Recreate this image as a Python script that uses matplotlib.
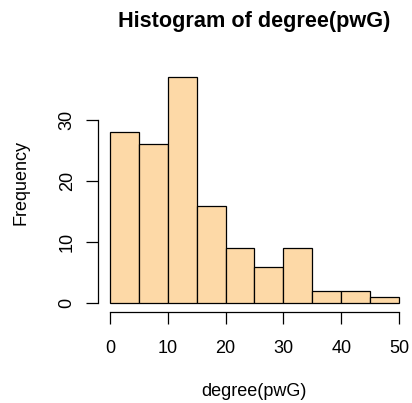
import matplotlib.pyplot as plt
import numpy as np

# histogram of degree(pwG): bin edges and counts
bin_edges = [0, 5, 10, 15, 20, 25, 30, 35, 40, 45, 50]
counts = [28, 26, 37, 16, 9, 6, 9, 2, 2, 1]
x_ticks = [0, 10, 20, 30, 40, 50]
y_ticks = [0, 10, 20, 30]

plt.rcParams['font.family'] = ['Liberation Sans', 'DejaVu Sans']
plt.rcParams['font.size'] = 13

fig = plt.figure(figsize=(4.12, 4.03), dpi=100)
ax = fig.add_axes([0.2388, 0.2248, 0.9966 - 0.2388, 0.8308 - 0.2248])

lefts = np.array(bin_edges[:-1])
widths = np.diff(bin_edges)
ax.bar(lefts, counts, width=widths, align='edge', color='#FDD9A7',
       edgecolor='black', linewidth=0.9)

# R style axis extents (4% padding)
ax.set_xlim(-2, 52)
ax.set_ylim(-1.48, 38.48)

for s in ['top', 'right']:
    ax.spines[s].set_visible(False)
ax.spines['bottom'].set_bounds(0, 50)
ax.spines['left'].set_bounds(0, 30)
ax.spines['bottom'].set_linewidth(0.9)
ax.spines['left'].set_linewidth(0.9)

ax.set_xticks(x_ticks)
ax.set_yticks(y_ticks)
ax.tick_params(axis='both', direction='out', length=8.3, width=0.9)
ax.tick_params(axis='x', pad=11.5)
ax.tick_params(axis='y', pad=8)
for lab in ax.get_yticklabels():
    lab.set_rotation(90)
    lab.set_va('center')

fig.text(0.6175, 1 - 21 / 403, 'Histogram of degree(pwG)', ha='center', va='center',
         fontsize=15.6, fontweight='bold')
fig.text(0.6175, 1 - 392 / 403, 'degree(pwG)', ha='center', va='center')
fig.text(21 / 412, 1 - 183 / 403, 'Frequency', ha='center', va='center', rotation=90)

fig.savefig('out.png', dpi=100)
